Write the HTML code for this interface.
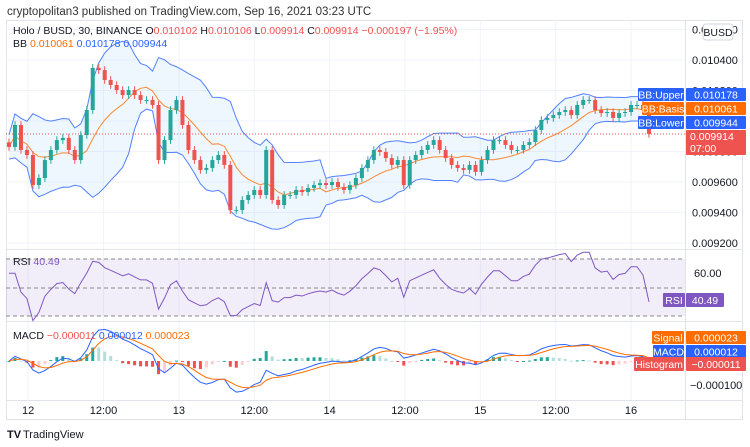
<!DOCTYPE html>
<html><head><meta charset="utf-8">
<style>
body{margin:0;background:#fff;width:750px;height:447px;overflow:hidden;font-family:"Liberation Sans",sans-serif}
svg{position:absolute;left:0;top:0}
</style></head><body>
<svg id="c" width="750" height="447">
<text x="7" y="15" font-size="11.5" fill="#333">cryptopolitan3 published on TradingView.com, Sep 16, 2021 03:23 UTC</text>
<rect x="6.5" y="20.5" width="736" height="399" fill="none" stroke="#e0e3eb"/>
<g id="grid"></g>
<line x1="685.5" y1="20" x2="685.5" y2="420" stroke="#e0e3eb"/>
<line x1="6" y1="249.5" x2="742" y2="249.5" stroke="#e0e3eb"/>
<line x1="6" y1="321.5" x2="742" y2="321.5" stroke="#e0e3eb"/>
<line x1="6" y1="400.5" x2="742" y2="400.5" stroke="#e0e3eb"/>
<g id="bb"></g><g id="candles"></g><g id="rsi"></g><g id="macd"></g><g id="axes"></g>
<g font-size="10.5">
<text x="13" y="34" fill="#131722">Holo / BUSD, 30, BINANCE  O<tspan fill="#ef5350">0.010102</tspan>  H<tspan fill="#ef5350">0.010106</tspan>  L<tspan fill="#ef5350">0.009914</tspan>  C<tspan fill="#ef5350">0.009914  −0.000197 (−1.95%)</tspan></text>
<text x="13" y="47" fill="#131722">BB  <tspan fill="#ff6d00">0.010061</tspan>  <tspan fill="#2962ff">0.010178</tspan>  <tspan fill="#2962ff">0.009944</tspan></text>
<text x="13" y="265" fill="#131722">RSI  <tspan fill="#7e57c2">40.49</tspan></text>
<text x="13" y="339" fill="#131722">MACD  <tspan fill="#ef5350">−0.000011</tspan>  <tspan fill="#2962ff">0.000012</tspan>  <tspan fill="#ff6d00">0.000023</tspan></text>
</g>
<g font-size="10" fill="#131722"><text x="7" y="438" font-weight="bold" font-size="11">TV</text><text x="23" y="438" font-size="11">TradingView</text></g>
</svg>
<script>
const closes=[9830,9974,9810,9777,9580,9626,9744,9810,9875,9889,9810,9744,9908,10072,10348,10334,10269,10236,10203,10170,10203,10170,10138,10138,10105,9744,9875,10072,10138,9974,9810,9744,9679,9692,9744,9777,9712,9416,9416,9482,9515,9548,9515,9810,9482,9449,9515,9515,9548,9534,9561,9580,9593,9580,9600,9567,9548,9580,9626,9692,9744,9810,9797,9757,9712,9744,9580,9744,9777,9810,9843,9875,9810,9757,9712,9692,9679,9712,9666,9744,9810,9875,9875,9843,9810,9810,9843,9862,9941,10007,10020,10039,10059,10072,10039,10105,10138,10138,10072,10052,10059,10020,10052,10059,10105,10105,10072,9915];
const priceTicks=[10600,10400,10200,10000,9800,9600,9400,9200];
const priceLabels=["0.010600","0.010400","0.010200","0.010000","0.009800","0.009600","0.009400","0.009200"];
const timeLabels=["12","12:00","13","12:00","14","12:00","15","12:00","16"];
const timeIdx=[3.2,15.8,28.4,41,53.6,66.2,78.8,91.4,104];
const NS="http://www.w3.org/2000/svg";
function mk(p,t,a){const e=document.createElementNS(NS,t);for(const k in a)e.setAttribute(k,a[k]);p.appendChild(e);return e;}
const n=closes.length;
const xS=i=>9+i*(640/(n-1));
const yP=v=>60+(10400-v)*30.5/200;
const yR=v=>259+(70-v)*57/40;
const yM=v=>361-v*23/100;
const G=document.getElementById('grid');
priceTicks.forEach(v=>{const l=mk(G,'line',{x1:6,x2:685,y1:yP(v),y2:yP(v),stroke:'#f0f3fa'});

});
timeIdx.forEach(i=>{const l=mk(G,'line',{x1:xS(i),x2:xS(i),y1:20,y2:400,stroke:'#f0f3fa'});

});
const P=10,bu=[],bm=[],bl=[];
for(let i=0;i<n;i++){const s=closes.slice(Math.max(0,i-P+1),i+1);const m=s.reduce((a,b)=>a+b,0)/s.length;
const sd=Math.sqrt(s.reduce((a,b)=>a+(b-m)*(b-m),0)/s.length);bm.push(m);bu.push(m+2*Math.max(sd,40));bl.push(m-2*Math.max(sd,40));}
const B=document.getElementById('bb');
const pts=a=>a.map((v,i)=>xS(i)+','+yP(v)).join(' ');
const fill=mk(B,'polygon',{points:pts(bu)+' '+bl.map((v,i)=>xS(i)+','+yP(v)).reverse().join(' '),fill:'rgba(33,150,243,0.08)'});


[[bu,'#2962ff','bb-upper'],[bl,'#2962ff','bb-lower'],[bm,'#ff6d00','bb-basis']].forEach(([a,c,nm])=>{const l=mk(B,'polyline',{points:pts(a),fill:'none',stroke:c,'stroke-width':1,opacity:0.8});

});
const dl=mk(B,'line',{x1:6,x2:685,y1:yP(closes[n-1]),y2:yP(closes[n-1]),stroke:'#ef5350','stroke-dasharray':'1 2'});


const C=document.getElementById('candles');
for(let i=0;i<n;i++){const o=i?closes[i-1]:closes[0]+30,c=closes[i];const up=c>=o;const col=up?'#26a69a':'#ef5350';
const g=mk(C,'g',{});


const hi=Math.max(o,c)+25,lo=Math.min(o,c)-25,x=xS(i);
mk(g,'line',{x1:x,x2:x,y1:yP(hi),y2:yP(lo),stroke:col});
mk(g,'rect',{x:x-2,y:yP(Math.max(o,c)),width:4,height:Math.max(1,yP(Math.min(o,c))-yP(Math.max(o,c))),fill:col});}
const R=document.getElementById('rsi');
const bg=mk(R,'rect',{x:6,y:259,width:679,height:57,fill:'rgba(126,87,194,0.1)'});


[259,288,316].forEach(y=>{const l=mk(R,'line',{x1:6,x2:685,y1:y,y2:y,stroke:'#888','stroke-dasharray':'4 3'});

});
const rsi=[];let ag=0,al=0;const RP=12;
for(let i=0;i<n;i++){const d=i?closes[i]-closes[i-1]:0;const g=Math.max(d,0),l=Math.max(-d,0);
if(i<=RP){ag=(ag*i+g)/(i+1);al=(al*i+l)/(i+1);}else{ag=(ag*(RP-1)+g)/RP;al=(al*(RP-1)+l)/RP;}
rsi.push(al===0?60:100-100/(1+ag/al));}
const rl=mk(R,'polyline',{points:rsi.map((v,i)=>xS(i)+','+yR(v)).join(' '),fill:'none',stroke:'#7e57c2','stroke-width':1});


const M=document.getElementById('macd');
const ema=(a,p)=>{const k=2/(p+1);const o=[];a.forEach((v,i)=>o.push(i?v*k+o[i-1]*(1-k):v));return o;};
const f=ema(closes,6),s=ema(closes,13);const macd=f.map((v,i)=>v-s[i]);const sig=ema(macd,5);const hist=macd.map((v,i)=>v-sig[i]);
hist.forEach((h,i)=>{const prev=i?hist[i-1]:0;const col=h>=0?(h>=prev?'#26a69a':'#b2dfdb'):(h<prev?'#ef5350':'#ffcdd2');
const r=mk(M,'rect',{x:xS(i)-1.5,y:Math.min(yM(h),yM(0)),width:3,height:Math.max(1,Math.abs(yM(h)-yM(0))),fill:col});

});
[[macd,'#2962ff','macd-line'],[sig,'#ff6d00','signal-line']].forEach(([a,c,nm])=>{const l=mk(M,'polyline',{points:a.map((v,i)=>xS(i)+','+yM(v)).join(' '),fill:'none',stroke:c,'stroke-width':1});

});
const A=document.getElementById('axes');
priceTicks.forEach((v,i)=>{const t=mk(A,'text',{x:692,y:yP(v)+4,'font-size':11,fill:'#131722'});t.textContent=priceLabels[i];

});
timeIdx.forEach((idx,i)=>{const t=mk(A,'text',{x:xS(idx),y:414,'font-size':11,fill:'#131722','text-anchor':'middle'});t.textContent=timeLabels[i];

});
const t60=mk(A,'text',{x:694,y:277,'font-size':11,fill:'#131722'});t60.textContent='60.00';


const tm=mk(A,'text',{x:690,y:389,'font-size':11,fill:'#131722'});tm.textContent='−0.000100';


function tag(x,y,w,h,col,txt,nm){const g=mk(A,'g',{});


mk(g,'rect',{x:x,y:y,width:w,height:h,fill:col,rx:1});
const t=mk(g,'text',{x:x+w/2,y:y+h/2+4,'font-size':10.5,fill:'#fff','text-anchor':'middle'});t.textContent=txt;}
const bx=mk(A,'rect',{x:703,y:24,width:30,height:16,rx:3,fill:'#fff',stroke:'#d1d4dc'});


const bt=mk(A,'text',{x:718,y:36,'font-size':10.5,fill:'#131722','text-anchor':'middle'});bt.textContent='BUSD';


tag(638,88,46,13,'#2962ff','BB:Upper','bb-upper-tag');tag(686,88,60,13,'#2962ff','0.010178','bb-upper-value');
tag(642,102,42,13,'#ff6d00','BB:Basis','bb-basis-tag');tag(686,102,60,13,'#ff6d00','0.010061','bb-basis-value');
tag(638,116,46,13,'#2962ff','BB:Lower','bb-lower-tag');tag(686,116,60,13,'#2962ff','0.009944','bb-lower-value');
tag(686,130,60,25,'#ef5350','','last-price-tag');
const lp=mk(A,'text',{x:690,y:140,'font-size':10.5,fill:'#fff'});lp.textContent='0.009914';


const lt=mk(A,'text',{x:690,y:152,'font-size':10.5,fill:'#fff'});lt.textContent='07:00';


tag(663,293,22,14,'#7e57c2','RSI','rsi-tag');tag(686,293,38,14,'#7e57c2','40.49','rsi-value');
tag(652,331,32,13,'#ff6d00','Signal','signal-tag');tag(686,331,60,13,'#ff6d00','0.000023','signal-value');
tag(653,345,31,13,'#2962ff','MACD','macd-tag');tag(686,345,60,13,'#2962ff','0.000012','macd-value');
tag(634,357,50,14,'#ef5350','Histogram','histogram-tag');tag(686,357,60,14,'#ef5350','−0.000011','histogram-value');
</script>
</body></html>
